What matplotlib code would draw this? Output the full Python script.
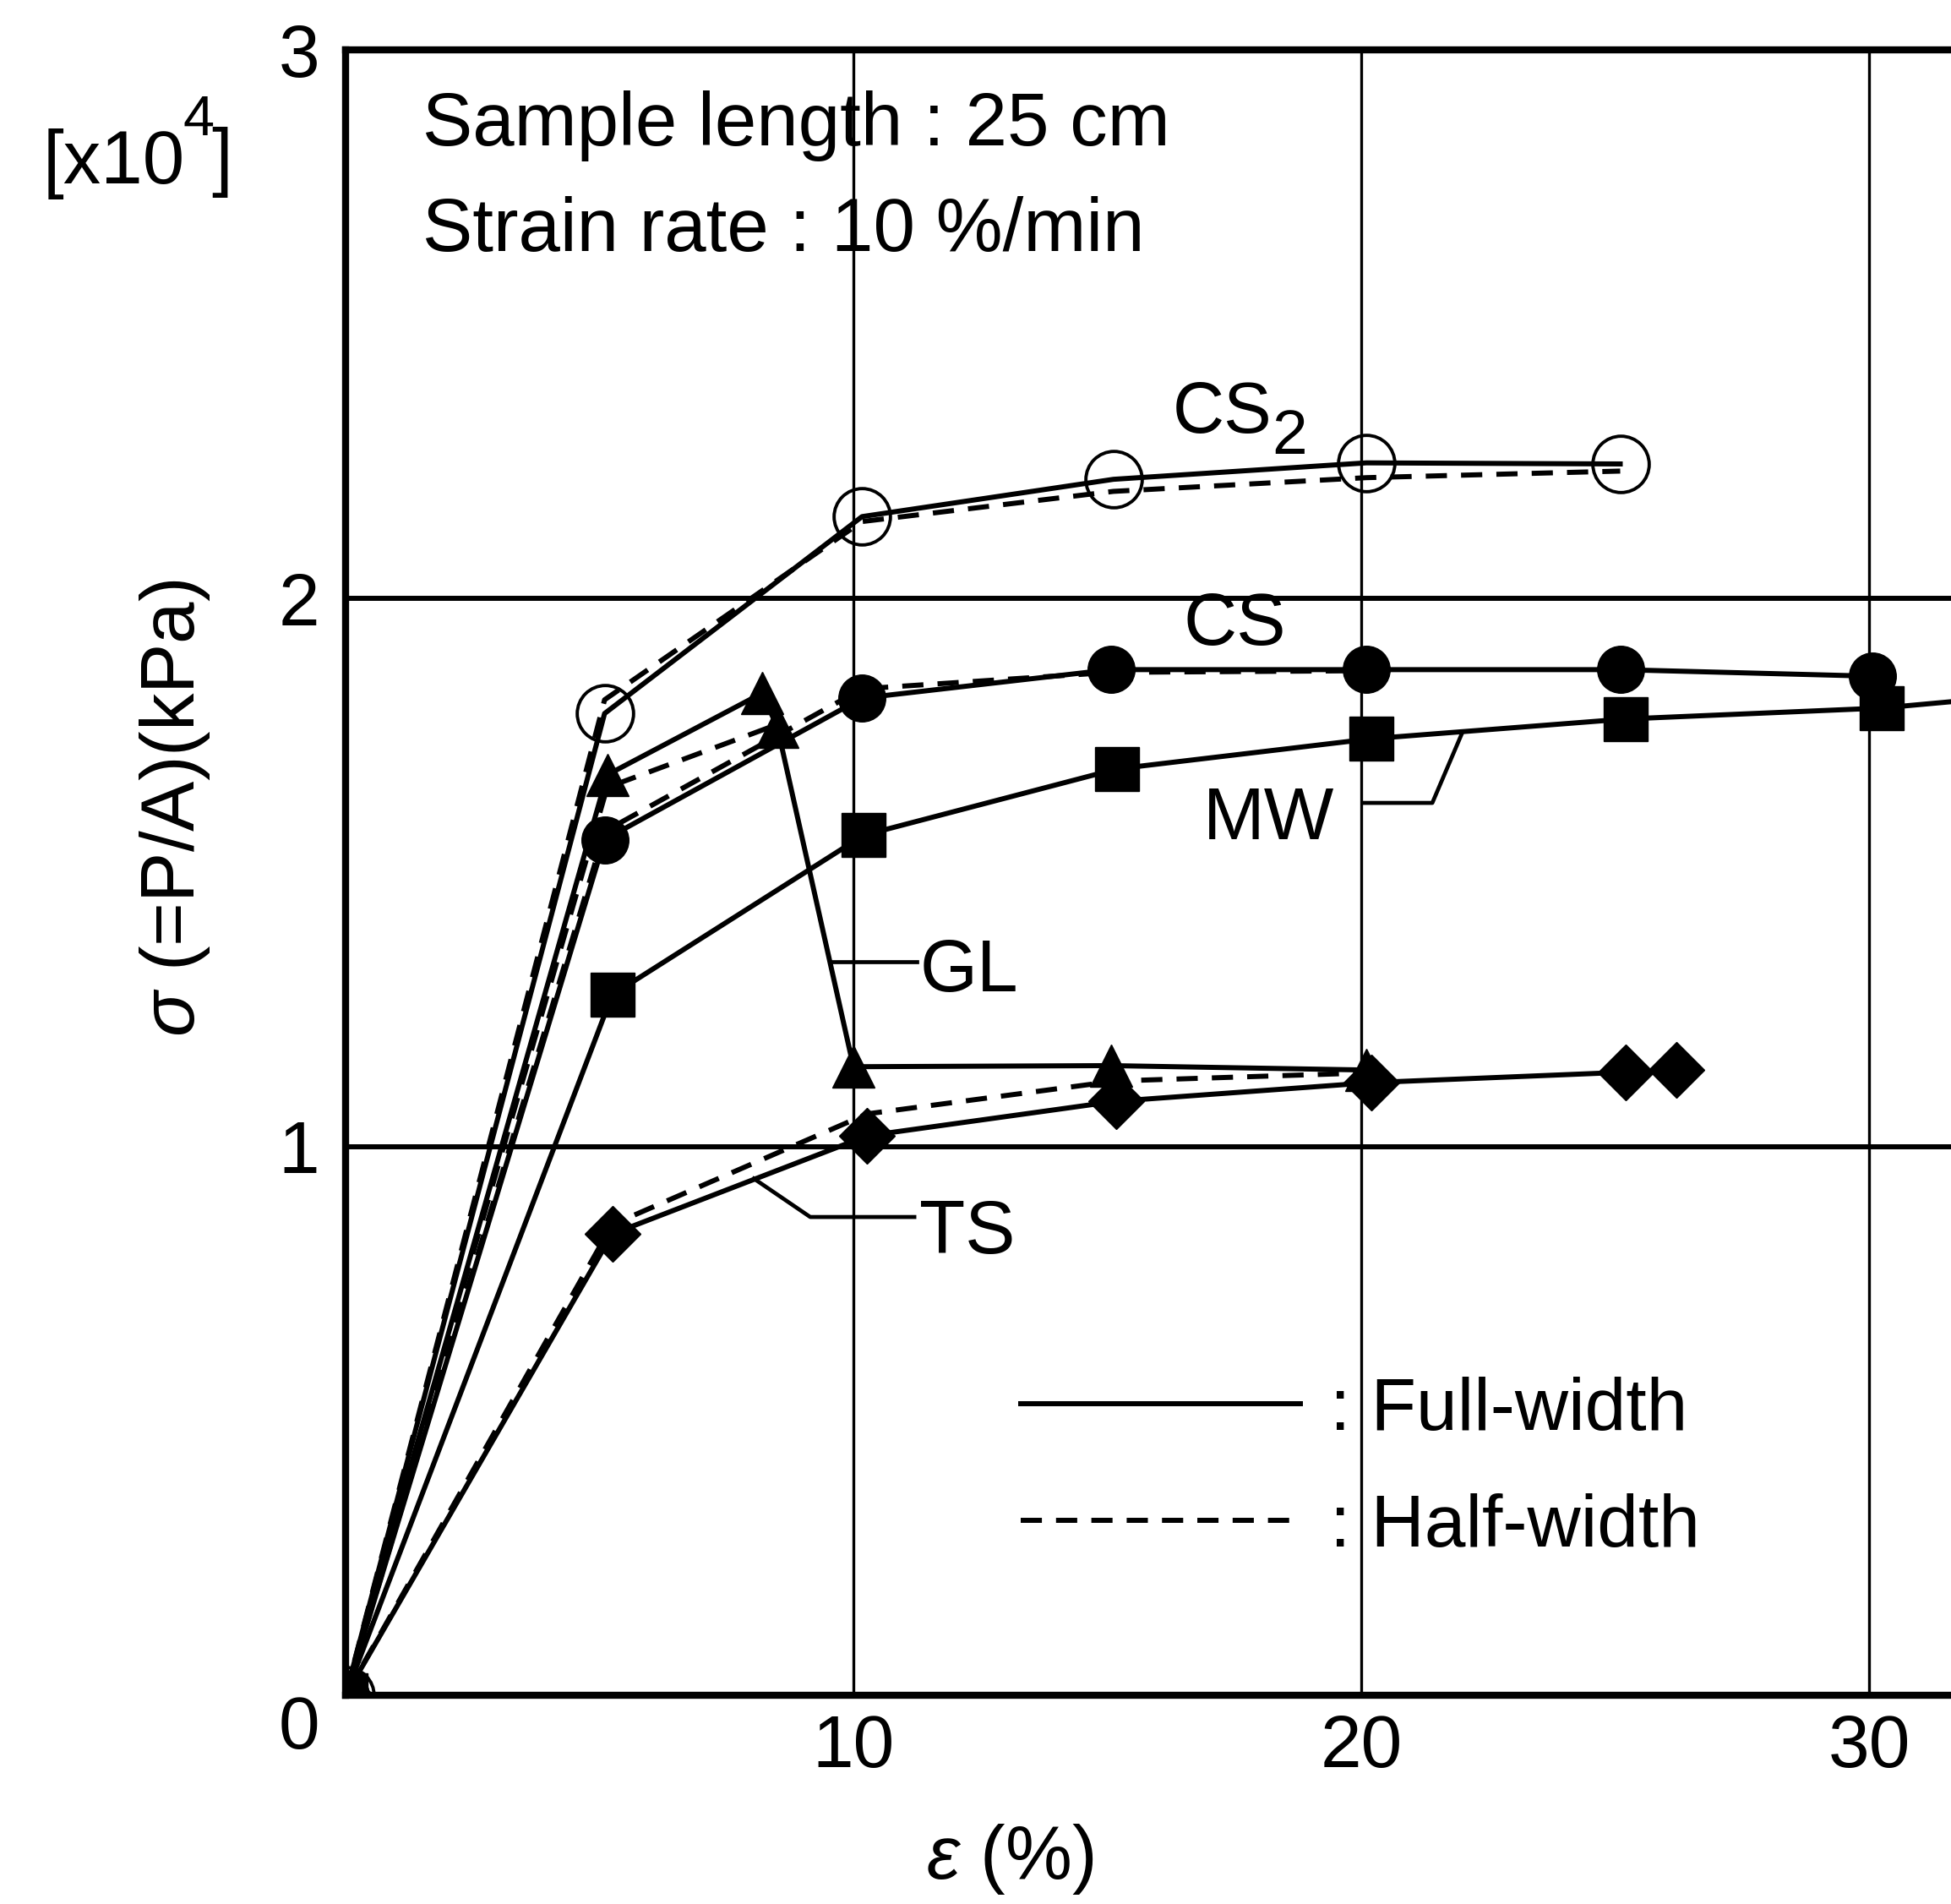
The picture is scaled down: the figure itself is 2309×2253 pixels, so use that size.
import matplotlib
matplotlib.use("Agg")
import matplotlib.pyplot as plt
from matplotlib.lines import Line2D

plt.rcParams['font.family'] = ['Liberation Sans', 'DejaVu Sans']
plt.rcParams['mathtext.fontset'] = 'custom'
plt.rcParams['mathtext.rm'] = 'Liberation Sans'
plt.rcParams['mathtext.it'] = 'Liberation Sans:italic'
plt.rcParams['mathtext.bf'] = 'Liberation Sans:bold'

# ---------------- data ----------------
x_ticks = [10, 20, 30]
y_ticks = [0, 1, 2, 3]

# CS2 (open circles)
cs2_x_full = [0, 5.1, 10.17, 15.12, 20.1, 25.1]
cs2_y_full = [0, 1.79, 2.149, 2.217, 2.247, 2.245]
cs2_x_half = [0, 5.1, 10.17, 15.12, 20.1, 25.1]
cs2_y_half = [0, 1.815, 2.14, 2.195, 2.22, 2.232]

# CS (filled circles)
cs_x_full = [0, 5.1, 10.17, 15.07, 20.1, 25.1, 30.07]
cs_y_full = [0, 1.56, 1.818, 1.87, 1.87, 1.87, 1.858]
cs_x_half = [0, 5.1, 10.17, 15.07, 20.1]
cs_y_half = [0, 1.575, 1.835, 1.865, 1.868]

# GL (filled triangles)
gl_x_full = [0, 5.15, 8.2, 8.5, 10.0, 15.07, 20.1]
gl_y_full = [0, 1.678, 1.827, 1.766, 1.146, 1.148, 1.14]
gl_x_half = [0, 5.15, 8.5]
gl_y_half = [0, 1.655, 1.77]

# MW (filled squares)
mw_x_full = [0, 5.25, 10.2, 15.19, 20.2, 25.2, 30.25, 35.0]
mw_y_full = [0, 1.277, 1.568, 1.689, 1.744, 1.78, 1.80, 1.84]

# TS (filled diamonds)
ts_x_full = [0, 5.25, 10.27, 15.17, 20.2, 25.2, 26.2]
ts_y_full = [0, 0.841, 1.02, 1.083, 1.117, 1.136, 1.14]
ts_x_half = [0, 5.25, 10.27, 15.17, 20.2]
ts_y_half = [0, 0.858, 1.06, 1.12, 1.135]

# leader lines for labels
gl_leader_x = [9.55, 11.25]
gl_leader_y = [1.337, 1.337]
mw_leader_x = [20.03, 21.40, 21.98]
mw_leader_y = [1.627, 1.627, 1.753]
ts_leader_x = [8.04, 9.15, 11.2]
ts_leader_y = [0.942, 0.872, 0.872]

legend_labels = [': Full-width', ': Half-width']

# ---------------- figure ----------------
W, H = 2309, 2253
fig = plt.figure(figsize=(W / 100, H / 100), dpi=100)
x0_px, y0_px, top_px = 409, 2006, 59
px_per_unit = 60.1
ax = fig.add_axes([x0_px / W, (H - y0_px) / H, (W - x0_px) / W, (y0_px - top_px) / H])
ax.set_xlim(0, (W - x0_px) / px_per_unit)
ax.set_ylim(0, 3)

LW = 4.3
DASH = (0, (4.2, 2.8))
FS = 64

for s in ['left', 'bottom', 'top']:
    ax.spines[s].set_linewidth(6.0)
ax.spines['right'].set_visible(False)

ax.set_xticks(x_ticks)
ax.set_yticks(y_ticks)
ax.tick_params(axis='both', length=0, labelsize=63)
ax.tick_params(axis='y', pad=22)
ax.tick_params(axis='x', pad=16)
ax.xaxis.grid(True, color='black', lw=2.4)
ax.yaxis.grid(True, color='black', lw=4.3)
ax.set_axisbelow(True)
ax.yaxis.get_major_ticks()[0].label1.set_verticalalignment('top')

# data lines
ax.plot(cs2_x_full, cs2_y_full, color='k', lw=LW, marker='o', ms=48,
        mfc='none', mec='k', mew=2.8)
ax.plot(cs2_x_half, cs2_y_half, color='k', lw=LW, ls=DASH)

ax.plot(cs_x_full, cs_y_full, color='k', lw=LW, marker='o', ms=40, mfc='k', mec='k')
ax.plot(cs_x_half, cs_y_half, color='k', lw=LW, ls=DASH)

ax.plot(gl_x_full, gl_y_full, color='k', lw=LW, marker='^', ms=36, mfc='k', mec='k')
ax.plot(gl_x_half, gl_y_half, color='k', lw=LW, ls=DASH)

ax.plot(mw_x_full, mw_y_full, color='k', lw=LW, marker='s', ms=37, mfc='k', mec='k')

ax.plot(ts_x_full, ts_y_full, color='k', lw=LW, marker='D', ms=34, mfc='k', mec='k')
ax.plot(ts_x_half, ts_y_half, color='k', lw=LW, ls=DASH)

# leaders
ax.plot(gl_leader_x, gl_leader_y, color='k', lw=3.4)
ax.plot(mw_leader_x, mw_leader_y, color='k', lw=3.4)
ax.plot(ts_leader_x, ts_leader_y, color='k', lw=3.4)

# labels inside
ax.text(1.51, 2.826, 'Sample length : 25 cm', fontsize=FS, va='baseline', ha='left')
ax.text(1.51, 2.633, 'Strain rate : 10 %/min', fontsize=FS, va='baseline', ha='left')
ax.text(16.29, 2.302, 'CS', fontsize=61, va='baseline', ha='left')
ax.text(18.24, 2.263, '2', fontsize=54, va='baseline', ha='left')
ax.text(16.49, 1.915, 'CS', fontsize=63, va='baseline', ha='left')
ax.text(16.89, 1.561, 'MW', fontsize=63, va='baseline', ha='left')
ax.text(11.30, 1.2835, 'GL', fontsize=63, va='baseline', ha='left')
ax.text(11.3, 0.806, 'TS', fontsize=64, va='baseline', ha='left')

# legend
handles = [Line2D([], [], color='k', lw=LW),
           Line2D([], [], color='k', lw=LW, ls=DASH)]
ax.legend(handles, legend_labels, loc='upper left',
          bbox_to_anchor=(1208 / W, 1 - 1629 / H), bbox_transform=fig.transFigure,
          frameon=False, fontsize=63, handlelength=3.78, handletextpad=0.4,
          labelspacing=0.65, borderpad=0, borderaxespad=0)

# axis labels and multiplier
fig.text(207 / W, 1 - 956 / H, r'$\sigma$ (=P/A)(kPa)', rotation=90,
         ha='center', va='center', fontsize=FS)
fig.text(1195 / W, 1 - 2200 / H, r'$\varepsilon$ (%)', ha='center', va='center', fontsize=FS)
fig.text(51 / W, 1 - 217 / H, '[x10', ha='left', va='baseline', fontsize=FS)
fig.text(216 / W, 1 - 160 / H, '4', ha='left', va='baseline', fontsize=48)
fig.text(250 / W, 1 - 215 / H, ']', ha='left', va='baseline', fontsize=FS)

fig.savefig('out.png', dpi=100, facecolor='white')
